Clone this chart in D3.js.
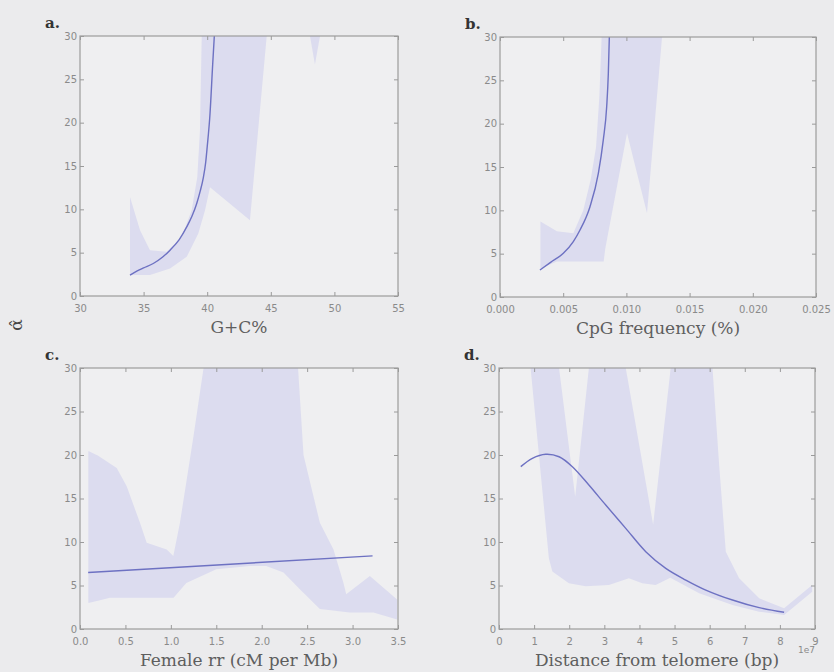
<!DOCTYPE html>
<html><head><meta charset="utf-8">
<script src="https://cdn.jsdelivr.net/npm/d3@7"></script>
<style>body{margin:0;background:#ebebed}svg{display:block}</style>
</head><body>
<svg id="chart" width="834" height="672"></svg>
<script>
// ---------- data ----------
const yTicks = [0, 5, 10, 15, 20, 25, 30];

// a. G+C%
const aXTicks = [30, 35, 40, 45, 50, 55];
const aLineX = [33.93, 34.5, 35.0, 35.76, 36.5, 37.08, 37.8, 38.39, 38.8, 39.17, 39.45, 39.7, 39.88, 40.0, 40.22, 40.43, 40.56];
const aLineY = [2.41, 2.9, 3.25, 3.75, 4.5, 5.29, 6.5, 7.97, 9.2, 10.65, 12.1, 13.7, 15.4, 17.2, 21.0, 26.7, 30];
const aBandX = [33.93, 33.93, 34.72, 35.5, 36.82, 37.99, 38.78, 39.22, 39.43, 39.57, 44.68, 43.36, 40.22, 39.83, 39.3, 38.39, 37.08, 35.5];
const aBandY = [2.41, 11.41, 7.59, 5.29, 5.1, 6.82, 9.89, 13.71, 19.08, 30, 30, 8.74, 12.56, 9.89, 7.2, 4.52, 3.18, 2.41];
const aBand2X = [48.08, 48.47, 48.87];
const aBand2Y = [30, 26.7, 30];

// b. CpG frequency (%)
const bXTicks = [0, 0.005, 0.01, 0.015, 0.02, 0.025];
const bLineX = [0.00316, 0.004, 0.00501, 0.0058, 0.00633, 0.00712, 0.00778, 0.00817, 0.00844, 0.00857, 0.00865];
const bLineY = [3.11, 4.0, 5.04, 6.4, 7.73, 10.42, 14.27, 18.1, 21.95, 25.8, 30];
const bBandX = [0.0032, 0.0032, 0.0045, 0.0058, 0.00659, 0.00717, 0.0076, 0.00786, 0.00804, 0.01282, 0.01163, 0.01005, 0.00833, 0.0082, 0.0045];
const bBandY = [3.3, 8.7, 7.6, 7.35, 10.0, 13.5, 17.3, 23.1, 30, 30, 9.65, 18.9, 5.6, 4.1, 4.1];

// c. Female rr (cM per Mb)
const cXTicks = [0, 0.5, 1.0, 1.5, 2.0, 2.5, 3.0, 3.5];
const cLineX = [0.09, 3.22];
const cLineY = [6.5, 8.4];
const cBandX = [0.092, 0.092, 0.2, 0.404, 0.514, 0.66, 0.734, 0.954, 1.027, 1.1, 1.25, 1.36, 2.40, 2.46, 2.64, 2.79, 2.90, 2.93, 3.19, 3.49, 3.49, 3.23, 2.97, 2.64, 2.42, 2.24, 2.05, 1.87, 1.50, 1.17, 1.03, 0.66, 0.33, 0.22];
const cBandY = [3.0, 20.46, 19.9, 18.5, 16.4, 12.2, 9.9, 9.15, 8.4, 12.2, 22.2, 30, 30, 20, 12.2, 9.15, 5.3, 4.0, 6.1, 3.4, 1.1, 1.9, 1.9, 2.3, 4.56, 6.5, 7.24, 7.24, 6.86, 5.3, 3.6, 3.6, 3.6, 3.3];

// d. Distance from telomere (bp), x in units of 1e7
const dXTicks = [0, 1, 2, 3, 4, 5, 6, 7, 8, 9];
const dLineX = [0.62, 0.95, 1.33, 1.71, 2.09, 2.56, 3.04, 3.61, 4.18, 4.75, 5.32, 5.89, 6.65, 7.41, 8.12];
const dLineY = [18.66, 19.62, 20.08, 19.8, 18.66, 16.55, 14.25, 11.57, 8.89, 6.97, 5.63, 4.48, 3.33, 2.45, 1.92];
const dBandX = [0.90, 1.42, 1.52, 1.99, 2.47, 3.13, 3.70, 4.08, 4.46, 4.88, 5.70, 6.65, 7.41, 8.12, 8.92, 8.92, 8.12, 7.41, 6.84, 6.46, 6.27, 6.08, 4.89, 4.39, 3.61, 2.56, 2.17, 1.71];
const dBandY = [30, 8.12, 6.6, 5.25, 4.9, 5.06, 5.83, 5.25, 5.06, 5.9, 4.1, 2.76, 1.99, 1.61, 4.29, 5.06, 2.38, 3.53, 5.83, 8.89, 18.85, 30, 30, 12, 30, 30, 15.2, 30];

// ---------- drawing ----------
const panels = [
  {letter: "a.", L: 80, R: 398, T: 36, B: 296, xd: [30, 55], xt: aXTicks, fmt: d3.format("d"),
   title: "G+C%", lx: aLineX, ly: aLineY, bands: [[aBandX, aBandY], [aBand2X, aBand2Y]], smooth: false},
  {letter: "b.", L: 500, R: 816, T: 37, B: 297, xd: [0, 0.025], xt: bXTicks, fmt: d3.format(".3f"),
   title: "CpG frequency (%)", lx: bLineX, ly: bLineY, bands: [[bBandX, bBandY]], smooth: false},
  {letter: "c.", L: 80, R: 398, T: 368, B: 629, xd: [0, 3.5], xt: cXTicks, fmt: d3.format(".1f"),
   title: "Female rr (cM per Mb)", lx: cLineX, ly: cLineY, bands: [[cBandX, cBandY]], smooth: false},
  {letter: "d.", L: 499, R: 815, T: 368, B: 629, xd: [0, 9], xt: dXTicks, fmt: d3.format("d"),
   title: "Distance from telomere (bp)", lx: dLineX, ly: dLineY, bands: [[dBandX, dBandY]], smooth: true, offset: "1e7"}
];

const svg = d3.select("#chart");
svg.append("rect").attr("width", 834).attr("height", 672).attr("fill", "#ebebed");

const tickColor = "#8a8a8a";
const tickFont = "DejaVu Sans, sans-serif";
const serif = "DejaVu Serif, serif";

panels.forEach((p, i) => {
  const x = d3.scaleLinear().domain(p.xd).range([p.L, p.R]);
  const y = d3.scaleLinear().domain([0, 30]).range([p.B, p.T]);
  const g = svg.append("g");
  const clipId = "clip" + i;
  svg.append("clipPath").attr("id", clipId).append("rect")
    .attr("x", p.L).attr("y", p.T).attr("width", p.R - p.L).attr("height", p.B - p.T);

  g.append("rect").attr("x", p.L).attr("y", p.T).attr("width", p.R - p.L).attr("height", p.B - p.T)
    .attr("fill", "#efeff1");

  const cg = g.append("g").attr("clip-path", `url(#${clipId})`);
  const poly = d3.line().x(d => x(d[0])).y(d => y(d[1]));
  p.bands.forEach(([bx, by]) => {
    cg.append("path").attr("d", poly(bx.map((v, k) => [v, by[k]])) + "Z")
      .attr("fill", "#dcdcef").attr("stroke", "none");
  });
  const ln = d3.line().x(d => x(d[0])).y(d => y(d[1]))
    .curve(p.smooth ? d3.curveCatmullRom.alpha(0.5) : d3.curveMonotoneX);
  cg.append("path").attr("d", ln(p.lx.map((v, k) => [v, p.ly[k]])))
    .attr("fill", "none").attr("stroke", "#6d71c2").attr("stroke-width", 1.4);

  // axes (ticks pointing inward)
  const ax = g.append("g").attr("transform", `translate(0,${p.B})`)
    .call(d3.axisBottom(x).tickValues(p.xt).tickFormat(p.fmt).tickSize(-4).tickPadding(9));
  const ay = g.append("g").attr("transform", `translate(${p.L},0)`)
    .call(d3.axisLeft(y).tickValues(yTicks).tickFormat(d3.format("d")).tickSize(-4).tickPadding(3));
  const axT = g.append("g").attr("transform", `translate(0,${p.T})`)
    .call(d3.axisTop(x).tickValues(p.xt).tickFormat("").tickSize(-4));
  const ayR = g.append("g").attr("transform", `translate(${p.R},0)`)
    .call(d3.axisRight(y).tickValues(yTicks).tickFormat("").tickSize(-4));
  [ax, ay, axT, ayR].forEach(a => {
    a.select(".domain").remove();
    a.selectAll("line").attr("stroke", "#9a9a9a");
    a.selectAll("text").attr("fill", tickColor).style("font-family", tickFont).style("font-size", "10px");
  });

  g.append("rect").attr("x", p.L).attr("y", p.T).attr("width", p.R - p.L).attr("height", p.B - p.T)
    .attr("fill", "none").attr("stroke", "#9c9c9c").attr("stroke-width", 1.2);

  // axis title
  g.append("text").attr("x", (p.L + p.R) / 2).attr("y", p.B + 37).attr("text-anchor", "middle")
    .style("font-family", serif).style("font-size", "17px").attr("fill", "#5e5e5e").text(p.title);
  // panel letter
  g.append("text").attr("x", p.L - 35).attr("y", p.T - 8)
    .style("font-family", serif).style("font-weight", "bold").style("font-size", "15px")
    .attr("fill", "#333").text(p.letter);
  if (p.offset) {
    g.append("text").attr("x", p.R).attr("y", p.B + 24).attr("text-anchor", "end")
      .style("font-family", tickFont).style("font-size", "9px").attr("fill", tickColor).text(p.offset);
  }
});

// shared y label
svg.append("text").attr("transform", "translate(22,325) rotate(-90)").attr("text-anchor", "middle")
  .style("font-family", serif).style("font-size", "17px").attr("fill", "#444").text("α\u0302");
</script>
</body></html>
